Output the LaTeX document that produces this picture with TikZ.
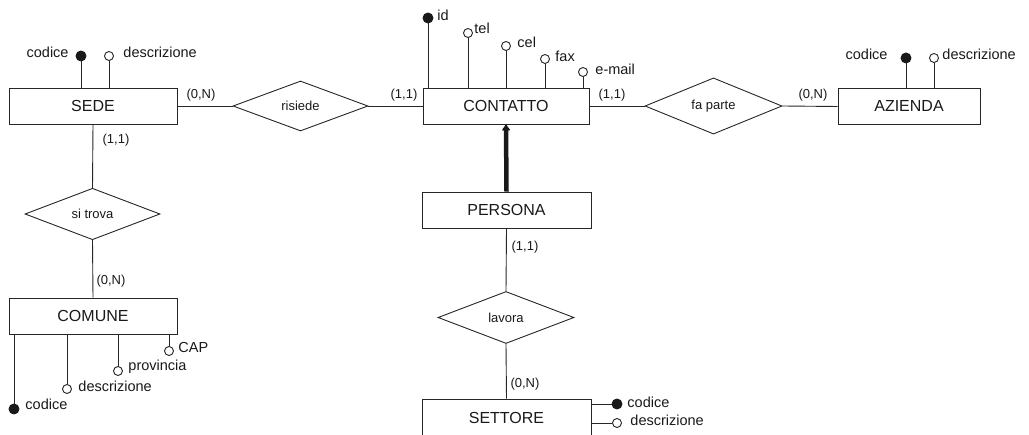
\documentclass[tikz,border=0pt]{standalone}
\usepackage{fontspec}
\setmainfont{Liberation Sans}
\usetikzlibrary{shapes.geometric,arrows.meta}
\begin{document}
\begin{tikzpicture}[x=1pt,y=-1pt,
  line width=0.9pt,
  entity/.style={draw=black!85, rectangle, minimum height=36pt, inner sep=0pt,
    font=\fontsize{16}{19}\selectfont, text=black!90},
  relation/.style={draw=black!85, diamond, inner sep=0pt,
    font=\fontsize{13}{15}\selectfont, text=black!90},
  keyattr/.style={circle, fill=black!90, draw=black!90, minimum size=10pt, inner sep=0pt},
  attr/.style={circle, draw=black!85, fill=white, minimum size=9pt, inner sep=0pt},
  attrlabel/.style={inner sep=0pt, font=\fontsize{14.5}{17}\selectfont, text=black!90},
  card/.style={inner sep=0pt, font=\fontsize{13}{15}\selectfont, text=black!90},
  conn/.style={draw=black!85},
  isa/.style={draw=black!90, line width=4.5pt, -{Latex[length=7pt,width=10pt,round]}},
]
\useasboundingbox (0,0) rectangle (1029,435);
\clip (0,0) rectangle (1029,435);

% entities
\node[entity, minimum width=168pt] (sede) at (93,106) {SEDE};
\node[entity, minimum width=166pt] (contatto) at (506,106) {CONTATTO};
\node[entity, minimum width=142pt] (azienda) at (909,106.5) {AZIENDA};
\node[entity, minimum width=168pt] (comune) at (93,316) {COMUNE};
\node[entity, minimum width=169pt] (persona) at (506.5,210) {PERSONA};
\node[entity, minimum width=169pt, minimum height=37pt] (settore) at (506.5,417.5) {SETTORE};

% relationships
\node[relation, minimum width=135pt, minimum height=50pt] (risiede) at (300.5,106) {risiede};
\node[relation, minimum width=137pt, minimum height=48pt] (faparte) at (713.5,106) {fa parte};
\node[relation, minimum width=135pt, minimum height=50pt] (sitrova) at (92.5,214) {si trova};
\node[relation, minimum width=136pt, minimum height=52pt] (lavora) at (506,317.5) {lavora};

% connectors
\draw[conn] (sede.east) -- (risiede.west);
\draw[conn] (risiede.east) -- (contatto.west);
\draw[conn] (contatto.east) -- (faparte.west);
\draw[conn] (faparte.east) -- (azienda.west);
\draw[conn] (sede.south) -- (sitrova.north);
\draw[conn] (sitrova.south) -- (comune.north);
\draw[conn] (persona.south) -- (lavora.north);
\draw[conn] (lavora.south) -- (settore.north);
\draw[isa] (persona.north) -- (contatto.south);

% cardinalities
\node[card] (c1) at (201,95) {(0,N)};
\node[card] (c2) at (404,95) {(1,1)};
\node[card] (c3) at (612,95) {(1,1)};
\node[card] (c4) at (813,95) {(0,N)};
\node[card] (c5) at (116,140) {(1,1)};
\node[card] (c6) at (111,281) {(0,N)};
\node[card] (c7) at (525,247) {(1,1)};
\node[card] (c8) at (525,384) {(0,N)};

% SEDE attributes
\node[keyattr] (sedecod) at (81,56) {};
\node[attr] (sededes) at (109,56) {};
\draw[conn] (sede.north -| sedecod) -- (sedecod);
\draw[conn] (sede.north -| sededes) -- (sededes);
\node[attrlabel, anchor=base east] (sedecodl) at (69,58) {codice};
\node[attrlabel, anchor=base west] (sededesl) at (123,58) {descrizione};

% AZIENDA attributes
\node[keyattr] (azcod) at (906,58) {};
\node[attr] (azdes) at (934,58) {};
\draw[conn] (azienda.north -| azcod) -- (azcod);
\draw[conn] (azienda.north -| azdes) -- (azdes);
\node[attrlabel, anchor=base east] (azcodl) at (888,60) {codice};
\node[attrlabel, anchor=base west] (azdesl) at (942,60) {descrizione};

% CONTATTO attributes
\node[keyattr] (coid) at (428,18) {};
\node[attr] (cotel) at (468,33) {};
\node[attr] (cocel) at (506,46) {};
\node[attr] (cofax) at (545,59) {};
\node[attr] (comail) at (583,72) {};
\foreach \a in {coid,cotel,cocel,cofax,comail}
  \draw[conn] (contatto.north -| \a) -- (\a);
\node[attrlabel, anchor=base west] (coidl) at (437,21) {id};
\node[attrlabel, anchor=base west] (cotell) at (474,34) {tel};
\node[attrlabel, anchor=base west] (cocell) at (517,48) {cel};
\node[attrlabel, anchor=base west] (cofaxl) at (555,62) {fax};
\node[attrlabel, anchor=base west] (comaill) at (595,75) {e-mail};

% COMUNE attributes
\node[keyattr] (cmcod) at (14,409) {};
\node[attr] (cmdes) at (67,389) {};
\node[attr] (cmprov) at (118,371) {};
\node[attr] (cmcap) at (169,351) {};
\foreach \a in {cmcod,cmdes,cmprov,cmcap}
  \draw[conn] (comune.south -| \a) -- (\a);
\node[attrlabel, anchor=base west] (cmcodl) at (25,410) {codice};
\node[attrlabel, anchor=base west] (cmdesl) at (78,392) {descrizione};
\node[attrlabel, anchor=base west] (cmprovl) at (128,371) {provincia};
\node[attrlabel, anchor=base west] (cmcapl) at (178,353) {CAP};

% SETTORE attributes
\node[keyattr] (secod) at (617,404) {};
\node[attr] (sedes2) at (617,423) {};
\draw[conn] (settore.east |- secod) -- (secod);
\draw[conn] (settore.east |- sedes2) -- (sedes2);
\node[attrlabel, anchor=base west] (secodl) at (627,408) {codice};
\node[attrlabel, anchor=base west] (sedes2l) at (630,426) {descrizione};
\end{tikzpicture}
\end{document}
